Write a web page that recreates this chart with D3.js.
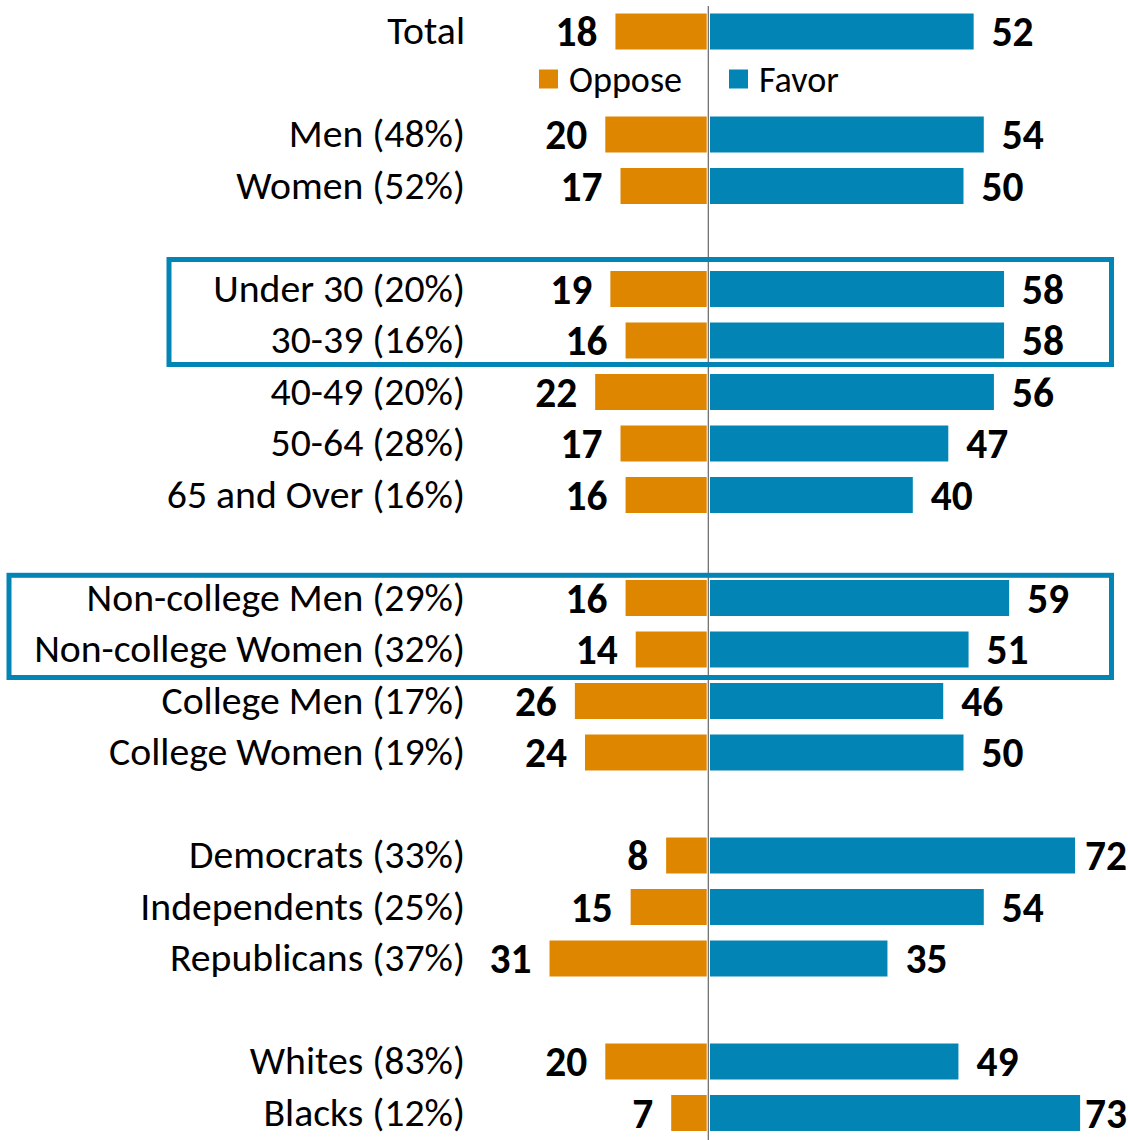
<!DOCTYPE html>
<html>
<head>
<meta charset="utf-8">
<script src="https://cdn.jsdelivr.net/npm/d3@7"></script>
<style>
  html, body { margin: 0; padding: 0; background: #fff; }
  svg { display: block; }
</style>
</head>
<body>
<svg id="chart" width="1128" height="1140"></svg>
<script>
// ---- data ----
const categories = ["Total", "", "Men (48%)", "Women (52%)", "",
  "Under 30 (20%)", "30-39 (16%)", "40-49 (20%)", "50-64 (28%)", "65 and Over (16%)", "",
  "Non-college Men (29%)", "Non-college Women (32%)", "College Men (17%)", "College Women (19%)", "",
  "Democrats (33%)", "Independents (25%)", "Republicans (37%)", "",
  "Whites (83%)", "Blacks (12%)"];
const oppose = [18, null, 20, 17, null, 19, 16, 22, 17, 16, null, 16, 14, 26, 24, null, 8, 15, 31, null, 20, 7];
const favor  = [52, null, 54, 50, null, 58, 58, 56, 47, 40, null, 59, 51, 46, 50, null, 72, 54, 35, null, 49, 73];
const seriesNames = ["Oppose", "Favor"];
const highlightGroups = [[5, 6], [11, 12]];

// ---- layout ----
const W = 1128, H = 1140;
const colors = { Oppose: "#DF8600", Favor: "#0285B5" };
const svg = d3.select("#chart");
const fontFamily = "Carlito, Calibri, Lato, 'Open Sans', sans-serif";

const idx = d3.range(categories.length);
const y = d3.scalePoint().domain(idx).range([31.5, 31.5 + 51.5 * (categories.length - 1)]);
const yc = i => y(i);
const barH = 36;

const centerX = 708.3;
const xR = d3.scaleLinear().domain([0, 100]).range([710, 710 + 507]);
const xL = d3.scaleLinear().domain([0, 100]).range([706.7, 706.7 - 507]);

// font fitting helper
function measure(text, weight, size) {
  const t = svg.append("text").attr("font-family", fontFamily).attr("font-weight", weight)
    .attr("font-size", size).text(text);
  const w = t.node().getComputedTextLength();
  t.remove();
  return w;
}
const labelSize = 100 * 431 / measure("Non-college Women (32%)", "normal", 100);
const numSize = 100 * 42 / measure("52", "bold", 100);
const legendSize = 100 * 113 / measure("Oppose", "normal", 100);

const rows = idx.filter(i => categories[i] !== "");

// category labels
svg.append("g").selectAll("text").data(rows).join("text")
  .attr("x", 465).attr("y", i => yc(i) - 1)
  .attr("dy", "0.35em")
  .attr("text-anchor", "end")
  .attr("font-family", fontFamily).attr("font-size", labelSize)
  .attr("fill", "#000")
  .text(i => categories[i]);

// oppose bars
svg.append("g").selectAll("rect").data(rows).join("rect")
  .attr("x", i => xL(oppose[i])).attr("width", i => xL(0) - xL(oppose[i]))
  .attr("y", i => yc(i) - barH / 2).attr("height", barH)
  .attr("fill", colors.Oppose);

// favor bars
svg.append("g").selectAll("rect").data(rows).join("rect")
  .attr("x", xR(0)).attr("width", i => xR(favor[i]) - xR(0))
  .attr("y", i => yc(i) - barH / 2).attr("height", barH)
  .attr("fill", colors.Favor);

// value labels
svg.append("g").selectAll("text").data(rows).join("text")
  .attr("x", i => xL(oppose[i]) - 18).attr("y", i => yc(i))
  .attr("dy", "0.36em").attr("text-anchor", "end")
  .attr("font-family", fontFamily).attr("font-weight", "bold").attr("font-size", numSize)
  .text(i => oppose[i]);
const rightLimit = W - 1;
svg.append("g").selectAll("text").data(rows).join("text")
  .each(function (i) {
    const w = measure(String(favor[i]), "bold", numSize);
    const x0 = xR(favor[i]) + 18;
    const fits = x0 + w <= rightLimit;
    d3.select(this)
      .attr("x", fits ? x0 : rightLimit)
      .attr("text-anchor", fits ? "start" : "end");
  })
  .attr("y", i => yc(i))
  .attr("dy", "0.36em")
  .attr("font-family", fontFamily).attr("font-weight", "bold").attr("font-size", numSize)
  .text(i => favor[i]);

// center line
svg.append("line").attr("x1", centerX).attr("x2", centerX).attr("y1", 6).attr("y2", H)
  .attr("stroke", "#666").attr("stroke-width", 1.2);

// legend
const legY = 79;
const legend = [
  { name: seriesNames[0], sx: 539, tx: 569 },
  { name: seriesNames[1], sx: 729, tx: 759 }
];
const lg = svg.append("g").selectAll("g").data(legend).join("g");
lg.append("rect").attr("x", d => d.sx).attr("y", legY - 9.5).attr("width", 19).attr("height", 19)
  .attr("fill", d => colors[d.name]);
lg.append("text").attr("x", d => d.tx).attr("y", legY).attr("dy", "0.35em")
  .attr("font-family", fontFamily).attr("font-size", legendSize).text(d => d.name);

// highlight boxes
const boxes = [
  { rows: highlightGroups[0], x0: 169, x1: 1111.5, padTop: 29.5, padBot: 24 },
  { rows: highlightGroups[1], x0: 9, x1: 1111.5, padTop: 22.7, padBot: 28 }
];
svg.append("g").selectAll("rect").data(boxes).join("rect")
  .attr("x", d => d.x0).attr("width", d => d.x1 - d.x0)
  .attr("y", d => yc(d.rows[0]) - d.padTop)
  .attr("height", d => (yc(d.rows[d.rows.length - 1]) + d.padBot) - (yc(d.rows[0]) - d.padTop))
  .attr("fill", "none").attr("stroke", colors.Favor).attr("stroke-width", 5);
</script>
</body>
</html>
